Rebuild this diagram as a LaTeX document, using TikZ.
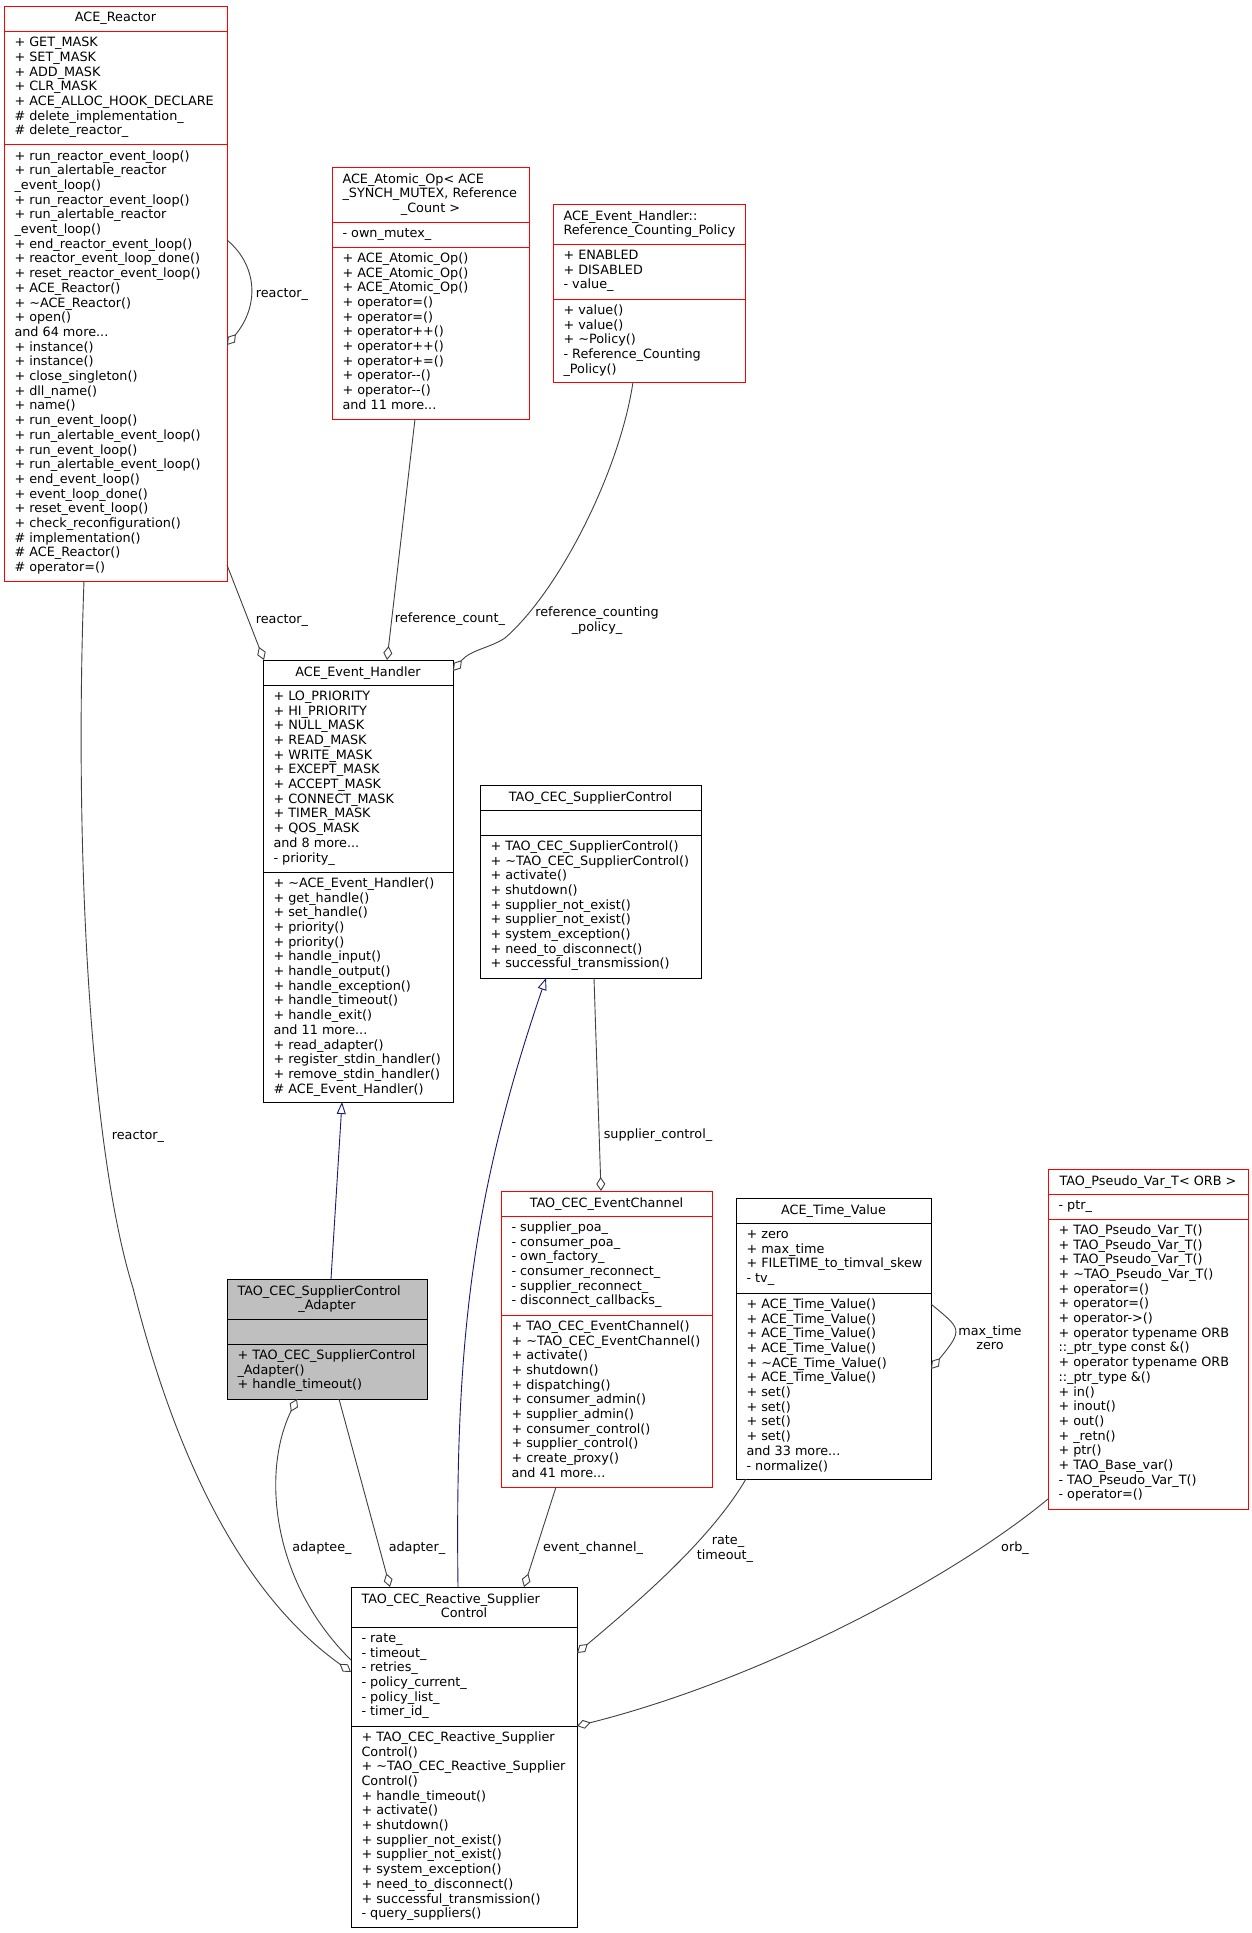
\documentclass[tikz,border=0pt]{standalone}
\usepackage{fontspec}
\setmainfont{DejaVu Sans}
\usetikzlibrary{arrows.meta}
\definecolor{grey25}{HTML}{404040}
\definecolor{grey75}{HTML}{BFBFBF}
\definecolor{midblue}{HTML}{191970}
\newcommand\diagfont{\fontsize{12.8}{14.7}\selectfont}
\newcommand\tdots{...}
\newcommand\rowsat[4]{\foreach \rowtext [count=\k] in {#4} {\node[txt, anchor=base west] (#1-\k) at (#2, {#3+14.7*\k-14.7}) {\rowtext};}}
\begin{document}
\begin{tikzpicture}[x=1pt, y=-1pt,
  box/.style={draw=black, line width=1pt, inner sep=0pt, outer sep=0pt, anchor=north west, rectangle},
  rbox/.style={box, draw=red},
  sepl/.style={line width=1pt},
  txt/.style={inner sep=0pt, outer sep=0pt, font=\diagfont},
  lbl/.style={txt, anchor=base},
  agg/.style={draw=grey25, line width=0.9pt, {Diamond[open, length=14pt, width=9pt]}-},
  inh/.style={draw=midblue, line width=0.9pt, -{Triangle[open, length=12pt, width=9pt]}}]
\useasboundingbox (0,0) rectangle (1252,1933);
\fill[white] (0,0) rectangle (1252,1933);

% ---------------- ACE_Reactor
\node[rbox, minimum width=223pt, minimum height=575pt] (reactor) at (4,6) {};
\draw[sepl, red] (reactor.west |- 0,31.4) -- (reactor.east |- 0,31.4);
\draw[sepl, red] (reactor.west |- 0,144.7) -- (reactor.east |- 0,144.7);
\node[lbl] (reactor-h) at (115.5,21.7) {ACE\_Reactor};
\rowsat{reactor-a}{14.5}{46.7}{+ GET\_MASK, + SET\_MASK, + ADD\_MASK, + CLR\_MASK, + ACE\_ALLOC\_HOOK\_DECLARE, \# delete\_implementation\_, \# delete\_reactor\_}
\rowsat{reactor-m}{14.5}{160}{+ run\_reactor\_event\_loop(), + run\_alertable\_reactor, \_event\_loop(), + run\_reactor\_event\_loop(), + run\_alertable\_reactor, \_event\_loop(), + end\_reactor\_event\_loop(), + reactor\_event\_loop\_done(), + reset\_reactor\_event\_loop(), + ACE\_Reactor(), + \textasciitilde ACE\_Reactor(), + open(), and 64 more\tdots, + instance(), + instance(), + close\_singleton(), + dll\_name(), + name(), + run\_event\_loop(), + run\_alertable\_event\_loop(), + run\_event\_loop(), + run\_alertable\_event\_loop(), + end\_event\_loop(), + event\_loop\_done(), + reset\_event\_loop(), + check\_reconfiguration(), \# implementation(), \# ACE\_Reactor(), \# operator=()}

% ---------------- ACE_Atomic_Op
\node[rbox, minimum width=197pt, minimum height=252pt] (atomic) at (332,167) {};
\draw[sepl, red] (atomic.west |- 0,222) -- (atomic.east |- 0,222);
\draw[sepl, red] (atomic.west |- 0,247) -- (atomic.east |- 0,247);
\rowsat{atomic-h}{342.5}{183}{ACE\_Atomic\_Op< ACE, {\_SYNCH\_MUTEX, Reference}}
\node[lbl] (atomic-hc) at (430.5,212.4) {\_Count >};
\rowsat{atomic-a}{342.5}{237.3}{- own\_mutex\_}
\rowsat{atomic-m}{342.5}{262.3}{+ ACE\_Atomic\_Op(), + ACE\_Atomic\_Op(), + ACE\_Atomic\_Op(), + operator=(), + operator=(), + operator++(), + operator++(), + operator+=(), + operator-{}-(), + operator-{}-(), and 11 more\tdots}

% ---------------- Reference_Counting_Policy
\node[rbox, minimum width=192pt, minimum height=178pt] (rcp) at (553,204) {};
\draw[sepl, red] (rcp.west |- 0,244) -- (rcp.east |- 0,244);
\draw[sepl, red] (rcp.west |- 0,299) -- (rcp.east |- 0,299);
\rowsat{rcp-h}{563.5}{220}{ACE\_Event\_Handler::, Reference\_Counting\_Policy}
\rowsat{rcp-a}{563.5}{259.3}{+ ENABLED, + DISABLED, - value\_}
\rowsat{rcp-m}{563.5}{314.3}{+ value(), + value(), + \textasciitilde Policy(), - Reference\_Counting, \_Policy()}

% ---------------- ACE_Event_Handler
\node[box, minimum width=190pt, minimum height=442pt] (eh) at (263,660) {};
\draw[sepl] (eh.west |- 0,685) -- (eh.east |- 0,685);
\draw[sepl] (eh.west |- 0,872) -- (eh.east |- 0,872);
\node[lbl] (eh-h) at (358,676) {ACE\_Event\_Handler};
\rowsat{eh-a}{273.5}{700.3}{+ LO\_PRIORITY, + HI\_PRIORITY, + NULL\_MASK, + READ\_MASK, + WRITE\_MASK, + EXCEPT\_MASK, + ACCEPT\_MASK, + CONNECT\_MASK, + TIMER\_MASK, + QOS\_MASK, and 8 more\tdots, - priority\_}
\rowsat{eh-m}{273.5}{887.3}{+ \textasciitilde ACE\_Event\_Handler(), + get\_handle(), + set\_handle(), + priority(), + priority(), + handle\_input(), + handle\_output(), + handle\_exception(), + handle\_timeout(), + handle\_exit(), and 11 more\tdots, + read\_adapter(), + register\_stdin\_handler(), + remove\_stdin\_handler(), \# ACE\_Event\_Handler()}

% ---------------- TAO_CEC_SupplierControl
\node[box, minimum width=221pt, minimum height=193pt] (sc) at (480,785) {};
\draw[sepl] (sc.west |- 0,810) -- (sc.east |- 0,810);
\draw[sepl] (sc.west |- 0,835) -- (sc.east |- 0,835);
\node[lbl] (sc-h) at (590.5,801) {TAO\_CEC\_SupplierControl};
\rowsat{sc-m}{490.5}{850.3}{+ TAO\_CEC\_SupplierControl(), + \textasciitilde TAO\_CEC\_SupplierControl(), + activate(), + shutdown(), + supplier\_not\_exist(), + supplier\_not\_exist(), + system\_exception(), + need\_to\_disconnect(), + successful\_transmission()}

% ---------------- TAO_CEC_SupplierControl_Adapter
\node[box, fill=grey75, minimum width=200pt, minimum height=120pt] (adapter) at (227,1279) {};
\draw[sepl] (adapter.west |- 0,1319) -- (adapter.east |- 0,1319);
\draw[sepl] (adapter.west |- 0,1344) -- (adapter.east |- 0,1344);
\rowsat{adapter-h}{237.5}{1295}{TAO\_CEC\_SupplierControl}
\node[lbl] (adapter-hc) at (327,1309.7) {\_Adapter};
\rowsat{adapter-m}{237.5}{1359.3}{+ TAO\_CEC\_SupplierControl, \_Adapter(), + handle\_timeout()}

% ---------------- TAO_CEC_EventChannel
\node[rbox, minimum width=211pt, minimum height=296pt] (ec) at (501,1191) {};
\draw[sepl, red] (ec.west |- 0,1216) -- (ec.east |- 0,1216);
\draw[sepl, red] (ec.west |- 0,1315) -- (ec.east |- 0,1315);
\node[lbl] (ec-h) at (606.5,1207) {TAO\_CEC\_EventChannel};
\rowsat{ec-a}{511.5}{1231.3}{- supplier\_poa\_, - consumer\_poa\_, - own\_factory\_, - consumer\_reconnect\_, - supplier\_reconnect\_, - disconnect\_callbacks\_}
\rowsat{ec-m}{511.5}{1330.3}{+ TAO\_CEC\_EventChannel(), + \textasciitilde TAO\_CEC\_EventChannel(), + activate(), + shutdown(), + dispatching(), + consumer\_admin(), + supplier\_admin(), + consumer\_control(), + supplier\_control(), + create\_proxy(), and 41 more\tdots}

% ---------------- ACE_Time_Value
\node[box, minimum width=195pt, minimum height=281pt] (tv) at (736,1198) {};
\draw[sepl] (tv.west |- 0,1223) -- (tv.east |- 0,1223);
\draw[sepl] (tv.west |- 0,1293) -- (tv.east |- 0,1293);
\node[lbl] (tv-h) at (833.5,1214) {ACE\_Time\_Value};
\rowsat{tv-a}{746.5}{1238.3}{+ zero, + max\_time, + FILETIME\_to\_timval\_skew, - tv\_}
\rowsat{tv-m}{746.5}{1308.3}{+ ACE\_Time\_Value(), + ACE\_Time\_Value(), + ACE\_Time\_Value(), + ACE\_Time\_Value(), + \textasciitilde ACE\_Time\_Value(), + ACE\_Time\_Value(), + set(), + set(), + set(), + set(), and 33 more\tdots, - normalize()}

% ---------------- TAO_Pseudo_Var_T
\node[rbox, minimum width=200pt, minimum height=340pt] (pv) at (1048,1169) {};
\draw[sepl, red] (pv.west |- 0,1194) -- (pv.east |- 0,1194);
\draw[sepl, red] (pv.west |- 0,1219) -- (pv.east |- 0,1219);
\node[lbl] (pv-h) at (1148,1185) {TAO\_Pseudo\_Var\_T< ORB >};
\rowsat{pv-a}{1058.5}{1209.3}{- ptr\_}
\rowsat{pv-m}{1058.5}{1234.3}{+ TAO\_Pseudo\_Var\_T(), + TAO\_Pseudo\_Var\_T(), + TAO\_Pseudo\_Var\_T(), + \textasciitilde TAO\_Pseudo\_Var\_T(), + operator=(), + operator=(), + operator->(), + operator typename ORB, ::\_ptr\_type const \&(), + operator typename ORB, ::\_ptr\_type \&(), + in(), + inout(), + out(), + \_retn(), + ptr(), + TAO\_Base\_var(), - TAO\_Pseudo\_Var\_T(), - operator=()}

% ---------------- TAO_CEC_Reactive_SupplierControl
\node[box, minimum width=226pt, minimum height=340pt] (rsc) at (351,1587) {};
\draw[sepl] (rsc.west |- 0,1627) -- (rsc.east |- 0,1627);
\draw[sepl] (rsc.west |- 0,1726) -- (rsc.east |- 0,1726);
\rowsat{rsc-h}{361.5}{1603}{TAO\_CEC\_Reactive\_Supplier}
\node[lbl] (rsc-hc) at (464,1617.7) {Control};
\rowsat{rsc-a}{361.5}{1642.3}{- rate\_, - timeout\_, - retries\_, - policy\_current\_, - policy\_list\_, - timer\_id\_}
\rowsat{rsc-m}{361.5}{1741.3}{+ TAO\_CEC\_Reactive\_Supplier, Control(), + \textasciitilde TAO\_CEC\_Reactive\_Supplier, Control(), + handle\_timeout(), + activate(), + shutdown(), + supplier\_not\_exist(), + supplier\_not\_exist(), + system\_exception(), + need\_to\_disconnect(), + successful\_transmission(), - query\_suppliers()}

% ---------------- connectors
% reactor self loop
\draw[agg] (reactor.east |- 0,345) .. controls +(33,-40) and +(30,25) .. (reactor.east |- 0,240);
\node[lbl] (l-rself) at (282,297.5) {reactor\_};
% reactor_ -> event handler
\draw[agg] ([xshift=1pt]eh.north west) -- (reactor.east |- 0,565);
\node[lbl] (l-reh) at (282,623.5) {reactor\_};
% reference_count_
\draw[agg] ([xshift=124pt]eh.north west) -- ([xshift=83pt]atomic.south west);
\node[lbl] (l-rc) at (450,622.5) {reference\_count\_};
% reference_counting_policy_
\draw[agg] (eh.east |- 0,671) .. controls (470,650) and (490,648) .. (505,638) .. controls (560,590) and (620,470) .. ([xshift=80pt]rcp.south west);
\node[lbl] (l-rcp1) at (597,616.5) {reference\_counting};
\node[lbl] (l-rcp2) at (597,631) {\_policy\_};
% inheritance adapter -> event handler
\draw[inh] ([xshift=104pt]adapter.north west) -- ([xshift=79pt]eh.south west);
% inheritance reactive -> supplier control
\draw[inh] ([xshift=107pt]rsc.north west) .. controls (455,1350) and (470,1200) .. ([xshift=66pt]sc.south west);
% supplier_control_
\draw[agg] ([xshift=100pt]ec.north west) -- ([xshift=114pt]sc.south west);
\node[lbl] (l-sc) at (658,1138.5) {supplier\_control\_};
% long reactor_
\draw[agg] (rsc.west |- 0,1672) .. controls (250,1600) and (180,1475) .. (133,1288) .. controls (90,1150) and (74,850) .. ([xshift=80pt]reactor.south west);
\node[lbl] (l-rlong) at (138,1139.5) {reactor\_};
% adaptee_
\draw[agg] ([xshift=70pt]adapter.south west) .. controls (262,1470) and (270,1580) .. (rsc.west |- 0,1660);
\node[lbl] (l-adaptee) at (322,1551.5) {adaptee\_};
% adapter_
\draw[agg] ([xshift=39pt]rsc.north west) -- ([xshift=112pt]adapter.south west);
\node[lbl] (l-adapter) at (417,1551.5) {adapter\_};
% event_channel_
\draw[agg] ([xshift=173pt]rsc.north west) -- ([xshift=55pt]ec.south west);
\node[lbl] (l-ec) at (593,1551.5) {event\_channel\_};
% rate_ timeout_
\draw[agg] (rsc.east |- 0,1653) .. controls (640,1600) and (710,1540) .. ([xshift=10pt]tv.south west);
\node[lbl] (l-rate) at (728,1544.5) {rate\_};
\node[lbl] (l-timeout) at (725,1559) {timeout\_};
% orb_
\draw[agg] (rsc.east |- 0,1726) .. controls (760,1680) and (950,1580) .. (pv.west |- 0,1499);
\node[lbl] (l-orb) at (1015,1551.5) {orb\_};
% time value self loop
\draw[agg] (tv.east |- 0,1369) .. controls +(33,-40) and +(30,25) .. (tv.east |- 0,1304);
\node[lbl] (l-max) at (990,1335.5) {max\_time};
\node[lbl] (l-zero) at (990,1349.5) {zero};
\end{tikzpicture}
\end{document}
